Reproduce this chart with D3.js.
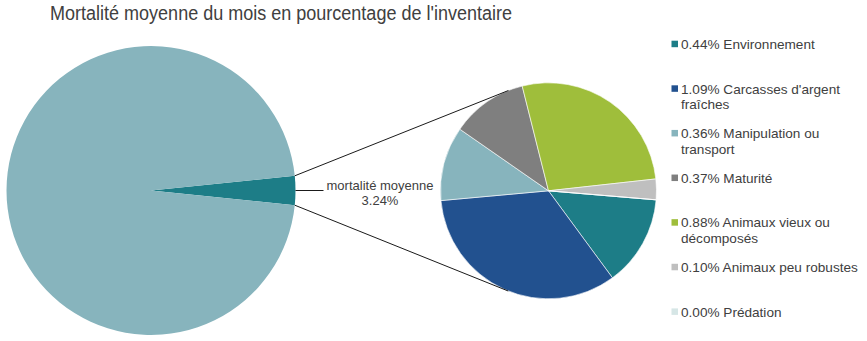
<!DOCTYPE html>
<html>
<head>
<meta charset="utf-8">
<script src="https://cdn.jsdelivr.net/npm/d3@7"></script>
<style>
  html, body { margin: 0; padding: 0; background: #ffffff; }
  svg { display: block; font-family: "Liberation Sans", Arial, sans-serif; }
</style>
</head>
<body>
<svg id="chart" width="867" height="341"></svg>
<script>
const title = "Mortalité moyenne du mois en pourcentage de l'inventaire";

const mainCategories = ["mortalité moyenne", "Autre"];
const mainValues = [3.24, 96.76];
const mainColors = ["#1d7d87", "#87b4bd"];

const categories = [
  "Environnement",
  "Carcasses d'argent fraîches",
  "Manipulation ou transport",
  "Maturité",
  "Animaux vieux ou décomposés",
  "Animaux peu robustes",
  "Prédation"
];
const values = [0.44, 1.09, 0.36, 0.37, 0.88, 0.10, 0.00];
const colors = ["#1d7d87", "#22518f", "#87b4bd", "#7f7f7f", "#9fbe3b", "#bfbfbf", "#d6e6e6"];

const svg = d3.select("#chart");
const textColor = "#404040";

// Title
svg.append("text")
  .attr("x", 50).attr("y", 20)
  .attr("font-size", 19.5)
  .attr("textLength", 462)
  .attr("lengthAdjust", "spacingAndGlyphs")
  .attr("fill", textColor)
  .text(title);

// Big pie
const bigC = { x: 151, y: 190.5 }, bigR = 144.5;
const mainTotal = d3.sum(mainValues);
const half = Math.PI * mainValues[0] / mainTotal;
const bigPie = d3.pie().sort(null).value(d => d)
  .startAngle(Math.PI / 2 - half).endAngle(Math.PI / 2 - half + 2 * Math.PI);
const bigArc = d3.arc().innerRadius(0).outerRadius(bigR);
const gBig = svg.append("g").attr("transform", `translate(${bigC.x},${bigC.y})`);
gBig.selectAll("path").data(bigPie(mainValues)).join("path")
  .attr("d", bigArc)
  .attr("fill", (d, i) => mainColors[i]);

// Small pie
const smC = { x: 548.5, y: 190.8 }, smR = 108;
const startDeg = 94.8;
const smPie = d3.pie().sort(null).value(d => d)
  .startAngle(startDeg * Math.PI / 180).endAngle(startDeg * Math.PI / 180 + 2 * Math.PI);
const smArc = d3.arc().innerRadius(0).outerRadius(smR);
const gSm = svg.append("g").attr("transform", `translate(${smC.x},${smC.y})`);
gSm.selectAll("path").data(smPie(values)).join("path")
  .attr("d", smArc)
  .attr("fill", (d, i) => colors[i])
  .attr("stroke", "#ffffff")
  .attr("stroke-width", 0.6);

// Connector lines (tangent from slice edges to secondary pie)
const bigSlice = bigPie(mainValues)[0];
function edgePoint(a) {
  return [bigC.x + bigR * Math.sin(a), bigC.y - bigR * Math.cos(a)];
}
function tangent(p, sign) {
  const dx = p[0] - smC.x, dy = p[1] - smC.y;
  const d = Math.hypot(dx, dy);
  const base = Math.atan2(dy, dx);
  const off = Math.acos(smR / d);
  const a = base + sign * off;
  return [smC.x + smR * Math.cos(a), smC.y + smR * Math.sin(a)];
}
const pTop = edgePoint(bigSlice.startAngle);
const pBot = edgePoint(bigSlice.endAngle);
const tTop = tangent(pTop, 1);
const tBot = tangent(pBot, -1);
svg.append("line")
  .attr("x1", pTop[0]).attr("y1", pTop[1]).attr("x2", tTop[0]).attr("y2", tTop[1])
  .attr("stroke", "#1a1a1a").attr("stroke-width", 1);
svg.append("line")
  .attr("x1", pBot[0]).attr("y1", pBot[1]).attr("x2", tBot[0]).attr("y2", tBot[1])
  .attr("stroke", "#1a1a1a").attr("stroke-width", 1);

// Label for split slice
const mid = edgePoint((bigSlice.startAngle + bigSlice.endAngle) / 2);
svg.append("line")
  .attr("x1", mid[0]).attr("y1", mid[1]).attr("x2", mid[0] + 28).attr("y2", mid[1])
  .attr("stroke", "#1a1a1a").attr("stroke-width", 1);
const lbl = svg.append("text")
  .attr("font-size", 13).attr("fill", textColor).attr("text-anchor", "middle");
lbl.append("tspan").attr("x", 380).attr("y", 189.5).text(mainCategories[0]);
lbl.append("tspan").attr("x", 380).attr("y", 205).text(mainValues[0].toFixed(2) + "%");

// Legend
const legendY = d3.scalePoint().domain(categories).range([44, 311.7]);
const legX = 671.5, textX = 681, maxW = 186, lineH = 15.5;
const leg = svg.append("g");
categories.forEach((c, i) => {
  const y = legendY(c);
  leg.append("rect")
    .attr("x", legX).attr("y", y - 3.3).attr("width", 6.5).attr("height", 6.5)
    .attr("fill", colors[i]);
  const full = values[i].toFixed(2) + "% " + c;
  const t = leg.append("text")
    .attr("font-size", 13.6).attr("fill", textColor);
  const words = full.split(" ");
  let line = [];
  let ts = t.append("tspan").attr("x", textX).attr("y", y + 4.9);
  let ln = 0;
  words.forEach(w => {
    line.push(w);
    ts.text(line.join(" "));
    if (ts.node().getComputedTextLength() > maxW && line.length > 1) {
      line.pop();
      ts.text(line.join(" "));
      line = [w];
      ln++;
      ts = t.append("tspan").attr("x", textX).attr("y", y + 4.9 + ln * lineH).text(w);
    }
  });
});
</script>
</body>
</html>
